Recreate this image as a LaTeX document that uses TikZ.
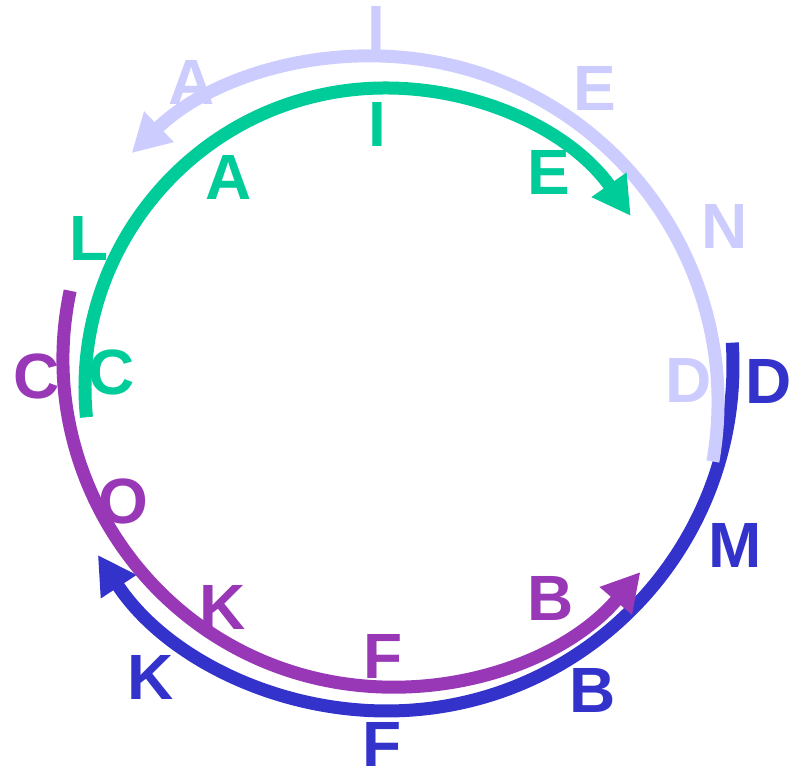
\documentclass[tikz,border=0pt]{standalone}
\usepackage{fontspec}
\setmainfont{Liberation Sans}
\usetikzlibrary{arrows.meta}
\definecolor{lav}{HTML}{CCCCFF}
\definecolor{grn}{HTML}{00CC99}
\definecolor{pur}{HTML}{9938B6}
\definecolor{blu}{HTML}{3333CC}
\begin{document}
\begin{tikzpicture}[x=1pt,y=1pt,
  route/.style={line width=13pt},
  tipped/.style={-{Triangle[length=38pt,width=40pt]}},
  lbl/.style={font=\fontsize{64}{64}\selectfont\bfseries, inner sep=0pt, anchor=center}]
\useasboundingbox (0,0) rectangle (796,767);
\coordinate (cB) at (387,402);
\coordinate (cP) at (391,408);
\coordinate (cL) at (372,365);
\coordinate (cG) at (385,379);
% blue
\draw[route,blu,tipped] ([shift={(3.7:346)}]cB) arc[start angle=3.7,end angle=-146.7,radius=346];
% purple
\draw[route,pur,tipped] ([shift={(168:328)}]cP) arc[start angle=168,end angle=319.5,radius=328];
% lavender
\draw[route,lav,tipped] ([shift={(-9.9:346)}]cL) arc[start angle=-9.9,end angle=134,radius=346];
% green
\draw[route,grn,tipped] ([shift={(185.6:300)}]cG) arc[start angle=185.6,end angle=35,radius=300];
% lavender labels
\node[lbl,text=lav] (lI) at (376,739) {I};
\node[lbl,text=lav] (lA) at (192,685) {A};
\node[lbl,text=lav] (lE) at (595,679) {E};
\node[lbl,text=lav] (lN) at (725,541) {N};
\node[lbl,text=lav] (lD) at (689,387) {D};
% green labels
\node[lbl,text=grn] (gI) at (377,643) {I};
\node[lbl,text=grn] (gA) at (229,590) {A};
\node[lbl,text=grn] (gE) at (549,595) {E};
\node[lbl,text=grn] (gL) at (89,529) {L};
\node[lbl,text=grn] (gC) at (112,395) {C};
% purple labels
\node[lbl,text=pur] (pC) at (37,391) {C};
\node[lbl,text=pur] (pO) at (123,266) {O};
\node[lbl,text=pur] (pK) at (223,160) {K};
\node[lbl,text=pur] (pF) at (383,111) {F};
\node[lbl,text=pur] (pB) at (551,169) {B};
% blue labels
\node[lbl,text=blu] (bD) at (769,386) {D};
\node[lbl,text=blu] (bM) at (735,222) {M};
\node[lbl,text=blu] (bB) at (593,77) {B};
\node[lbl,text=blu] (bF) at (382,23) {F};
\node[lbl,text=blu] (bK) at (151,90) {K};
\end{tikzpicture}
\end{document}
